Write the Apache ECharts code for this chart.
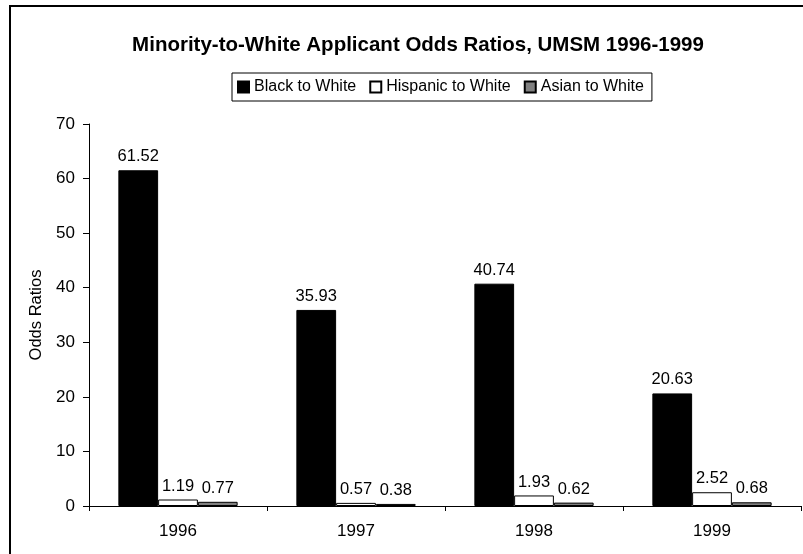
<!DOCTYPE html>
<html>
<head>
<meta charset="utf-8">
<script src="https://cdn.jsdelivr.net/npm/echarts@6/dist/echarts.min.js"></script>
<style>
  html, body { margin: 0; padding: 0; background: #fff; }
  #chart { width: 803px; height: 554px; }
</style>
</head>
<body>
<div id="chart"></div>
<script>
var years = ['1996', '1997', '1998', '1999']
var blackToWhite = [61.52, 35.93, 40.74, 20.63]
var hispanicToWhite = [1.19, 0.57, 1.93, 2.52]
var asianToWhite = [0.77, 0.38, 0.62, 0.68]

var FONT = 'Liberation Sans, Arial, sans-serif'
var TEXT_COLOR = '#000'

var chart = echarts.init(document.getElementById('chart'), null, { renderer: 'canvas' })

function barSeries(name, data, fill) {
  return {
    name: name,
    type: 'bar',
    data: data,
    barGap: '0%',
    barCategoryGap: '33%',
    itemStyle: { color: fill, borderColor: '#000', borderWidth: 1 },
    label: {
      show: true,
      position: 'top',
      distance: 5,
      color: TEXT_COLOR,
      fontFamily: FONT,
      fontSize: 16.5,
      formatter: function (p) { return p.value.toFixed(2) }
    }
  }
}

chart.setOption({
  backgroundColor: '#fff',
  animation: false,
  graphic: [
    {
      type: 'rect',
      shape: { x: 10, y: 6, width: 820, height: 600 },
      style: { fill: 'none', stroke: '#000', lineWidth: 2 },
      silent: true
    }
  ],
  title: {
    text: 'Minority-to-White Applicant Odds Ratios, UMSM 1996-1999',
    left: 413,
    textAlign: 'center',
    top: 30,
    textStyle: { fontFamily: FONT, fontSize: 20.5, fontWeight: 'bold', color: TEXT_COLOR }
  },
  legend: {
    left: 232,
    top: 73,
    padding: [6, 8, 6, 5],
    itemWidth: 11,
    itemHeight: 11,
    itemGap: 13,
    borderColor: '#000',
    borderWidth: 1,
    icon: 'rect',
    textStyle: { fontFamily: FONT, fontSize: 16, color: TEXT_COLOR }
  },
  grid: { left: 89, top: 124, right: 2, bottom: 48 },
  xAxis: {
    type: 'category',
    data: years,
    axisLine: { lineStyle: { color: '#000', width: 1 } },
    axisTick: { show: true, length: 5, inside: false, lineStyle: { color: '#000' } },
    axisLabel: { fontFamily: FONT, fontSize: 17, color: TEXT_COLOR, margin: 17 },
    splitLine: { show: false }
  },
  yAxis: {
    type: 'value',
    min: 0,
    max: 70,
    interval: 10,
    name: 'Odds Ratios',
    nameLocation: 'middle',
    nameGap: 39,
    nameRotate: 90,
    nameTextStyle: { fontFamily: FONT, fontSize: 16.5, color: TEXT_COLOR },
    axisLine: { show: true, lineStyle: { color: '#000', width: 1 } },
    axisTick: { show: true, length: 6, lineStyle: { color: '#000' } },
    axisLabel: { fontFamily: FONT, fontSize: 17, color: TEXT_COLOR, margin: 14 },
    splitLine: { show: false }
  },
  series: [
    barSeries('Black to White', blackToWhite, '#000'),
    barSeries('Hispanic to White', hispanicToWhite, '#fff'),
    barSeries('Asian to White', asianToWhite, '#808080')
  ]
})
</script>
</body>
</html>
